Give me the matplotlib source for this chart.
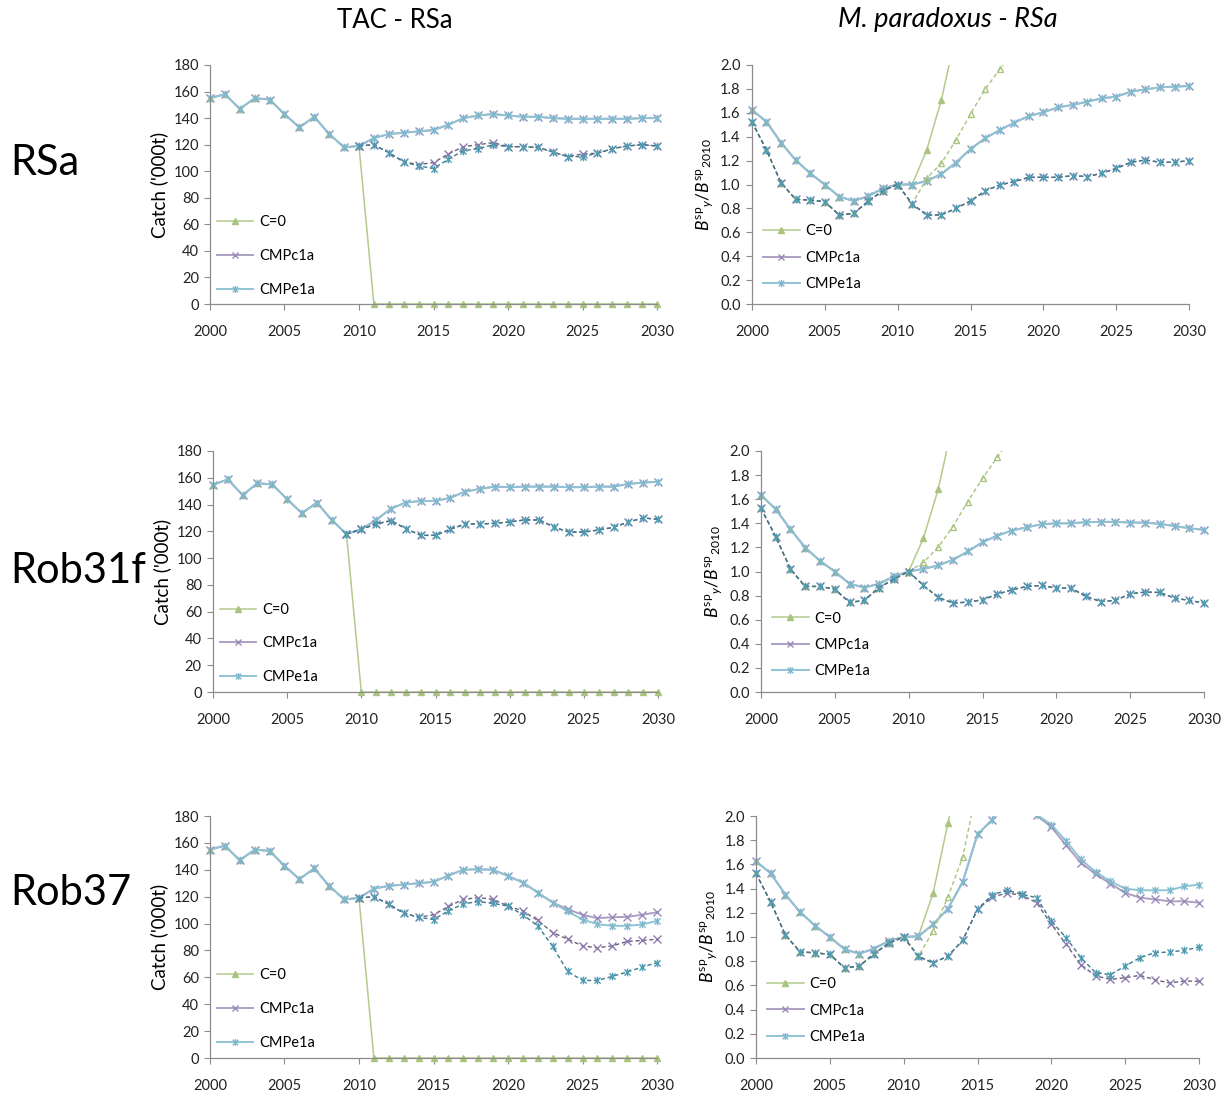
import numpy as np
import matplotlib
matplotlib.use("Agg")
import matplotlib.pyplot as plt
from matplotlib.path import Path
from matplotlib.lines import Line2D

plt.rcParams['font.family'] = ['Lato', 'DejaVu Sans']
plt.rcParams['mathtext.fontset'] = 'custom'
plt.rcParams['mathtext.it'] = 'Lato:italic'
plt.rcParams['mathtext.rm'] = 'Lato'

years = list(range(2000, 2031))
NA = np.nan

# ---- Catch ('000t) ----
# RSa
catch_rsa_cmpc1a = [155, 158, 147, 155, 154, 143, 133, 141, 128, 118, 119,
                    125, 128, 129, 130, 131, 135, 140, 142, 143, 142, 141, 141, 140, 139.5, 139.5, 139.5, 139.5, 139.5, 140, 140]
catch_rsa_cmpe1a = [155, 158, 147, 155, 154, 143, 133, 141, 128, 118, 119,
                    125, 128, 129, 130, 131, 135, 140, 142, 143, 142, 141, 141, 140, 139.5, 139.5, 139.5, 139.5, 139.5, 140, 140]
catch_rsa_cmpc1a_lo = [NA] * 10 + [119, 120, 114, 107, 105, 106.5, 113, 118.5, 120, 121.5, 118.5, 118.5, 118, 114.5, 111, 113, 113.5, 117, 119, 120, 119]
catch_rsa_cmpe1a_lo = [NA] * 10 + [119, 120, 114, 107, 104, 102, 109, 115.5, 117, 120, 118.5, 118.5, 118, 114.5, 111, 111, 113.5, 117, 119, 120, 119]
catch_rsa_c0 = [155, 158, 147, 155, 154, 143, 133, 141, 128, 118, 119] + [0] * 20

# Rob31f
catch_r31_cmpc1a = [154.6, 158.9, 147, 156, 155, 144, 133.5, 141.5, 128.5, 118, 121.5,
                    128.5, 137, 141.5, 142.7, 142.7, 145, 149.7, 151.7, 153.4, 153, 153.4, 153.4, 153.4, 153, 153, 153.4, 153.4, 155.4, 156.4, 157]
catch_r31_cmpe1a = [154.6, 158.9, 147, 156, 155, 144, 133.5, 141.5, 128.5, 118, 121.5,
                    128.5, 137, 141.5, 142.7, 142.7, 145, 149.7, 151.7, 153.4, 153, 153.4, 153.4, 153.4, 153, 153, 153.4, 153.4, 155.4, 156.4, 157]
catch_r31_cmpc1a_lo = [NA] * 9 + [118, 121.5, 125.5, 128, 122, 117, 117, 121.5, 125.5, 125.5, 126, 127, 128.5, 128.5, 123, 119.5, 119.5, 121, 123, 127, 130, 129]
catch_r31_cmpe1a_lo = [NA] * 9 + [118, 121.5, 125.5, 128, 122, 117, 117, 121.5, 125.5, 125.5, 126, 127, 128.5, 128.5, 123, 119.5, 119.5, 121, 123, 127, 130, 129]
catch_r31_c0 = [154.6, 158.9, 147, 156, 155, 144, 133.5, 141.5, 128.5, 118] + [0] * 21

# Rob37
catch_r37_cmpc1a = [155, 158, 147, 155, 154, 143, 133, 141, 128, 118, 119,
                    126, 128, 129, 130, 131, 135.7, 140, 140.4, 140, 135.4, 130.5, 123, 115.6, 110.7, 106.5, 104, 104.7, 105, 106.5, 108.4]
catch_r37_cmpe1a = [155, 158, 147, 155, 154, 143, 133, 141, 128, 118, 119,
                    126, 128, 129, 130, 131, 135.7, 140, 140.4, 140, 135.4, 130.5, 123, 115.6, 109, 103, 99.5, 98.3, 98.3, 99.3, 102]
catch_r37_cmpc1a_lo = [NA] * 10 + [119, 120, 114.4, 107.7, 104.7, 106.5, 112.7, 118, 119.3, 118, 113, 109.4, 102.3, 93.3, 88.4, 83.4, 82, 83.4, 86.7, 87.4, 88.4]
catch_r37_cmpe1a_lo = [NA] * 10 + [119, 120, 114.4, 107.7, 104.7, 103, 109.4, 114.6, 116.4, 115, 113, 106.5, 98.3, 83, 64.4, 57.7, 57.7, 60.7, 64, 67.6, 71]
catch_r37_c0 = [155, 158, 147, 155, 154, 143, 133, 141, 128, 118, 119] + [0] * 20

# ---- Spawning biomass relative to 2010 ----
bsp_hist_med = [1.625, 1.526, 1.35, 1.205, 1.094, 1.0, 0.898, 0.862, 0.904, 0.968, 1.0]
bsp_hist_lo = [1.526, 1.289, 1.015, 0.876, 0.870, 0.856, 0.745, 0.759, 0.862, 0.948, 1.0]

# RSa
bsp_rsa_cmpc1a = bsp_hist_med + [1.0, 1.03, 1.088, 1.183, 1.297, 1.386, 1.456, 1.517, 1.573, 1.604,
                                 1.646, 1.665, 1.693, 1.721, 1.735, 1.777, 1.796, 1.813, 1.819, 1.824]
bsp_rsa_cmpe1a = bsp_hist_med + [1.0, 1.03, 1.088, 1.183, 1.297, 1.386, 1.456, 1.517, 1.573, 1.604,
                                 1.646, 1.665, 1.693, 1.721, 1.735, 1.777, 1.796, 1.813, 1.819, 1.824]
bsp_rsa_cmpc1a_lo = bsp_hist_lo + [0.837, 0.745, 0.745, 0.80, 0.862, 0.946, 0.996, 1.024, 1.06, 1.06,
                                   1.06, 1.074, 1.066, 1.094, 1.135, 1.186, 1.205, 1.186, 1.186, 1.2]
bsp_rsa_cmpe1a_lo = bsp_hist_lo + [0.837, 0.745, 0.745, 0.80, 0.862, 0.946, 0.996, 1.024, 1.06, 1.06,
                                   1.06, 1.074, 1.066, 1.094, 1.135, 1.186, 1.205, 1.186, 1.186, 1.2]
bsp_rsa_c0 = bsp_hist_med + [1.0, 1.289, 1.707, 2.26] + [NA] * 16
bsp_rsa_c0_lo = bsp_hist_lo + [0.837, 1.052, 1.177, 1.372, 1.59, 1.796, 1.964, 2.13] + [NA] * 12

# Rob31f
bsp31_hist_med = [1.635, 1.517, 1.351, 1.199, 1.088, 1.0, 0.898, 0.867, 0.898, 0.959, 1.0]
bsp31_hist_lo = [1.525, 1.29, 1.019, 0.876, 0.876, 0.854, 0.743, 0.76, 0.867, 0.936, 1.0]
bsp_r31_cmpc1a = bsp31_hist_med + [1.022, 1.05, 1.097, 1.166, 1.243, 1.298, 1.34, 1.367, 1.392, 1.4,
                                   1.4, 1.409, 1.412, 1.412, 1.406, 1.406, 1.395, 1.378, 1.359, 1.345]
bsp_r31_cmpe1a = bsp31_hist_med + [1.022, 1.05, 1.097, 1.166, 1.243, 1.298, 1.34, 1.367, 1.392, 1.4,
                                   1.4, 1.409, 1.412, 1.412, 1.406, 1.406, 1.395, 1.378, 1.359, 1.345]
bsp_r31_cmpc1a_lo = bsp31_hist_lo + [0.884, 0.785, 0.738, 0.746, 0.765, 0.812, 0.848, 0.876, 0.884, 0.862,
                                     0.862, 0.793, 0.751, 0.76, 0.815, 0.829, 0.826, 0.779, 0.76, 0.738]
bsp_r31_cmpe1a_lo = bsp31_hist_lo + [0.884, 0.785, 0.738, 0.746, 0.765, 0.812, 0.848, 0.876, 0.884, 0.862,
                                     0.862, 0.793, 0.751, 0.76, 0.815, 0.829, 0.826, 0.779, 0.76, 0.738]
bsp_r31_c0 = bsp31_hist_med + [1.276, 1.682, 2.24] + [NA] * 17
bsp_r31_c0_lo = bsp31_hist_lo + [1.075, 1.202, 1.373, 1.58, 1.773, 1.948, 2.12] + [NA] * 13

# Rob37
bsp_r37_cmpc1a = bsp_hist_med + [1.006, 1.105, 1.234, 1.455, 1.848, 1.97, 2.25, 2.2, 2.005, 1.909,
                                 1.758, 1.614, 1.518, 1.441, 1.364, 1.325, 1.311, 1.295, 1.295, 1.284]
bsp_r37_cmpe1a = bsp_hist_med + [1.006, 1.105, 1.234, 1.455, 1.848, 1.97, 2.25, 2.2, 2.012, 1.928,
                                 1.793, 1.642, 1.537, 1.46, 1.4, 1.386, 1.386, 1.386, 1.419, 1.433]
bsp_r37_cmpc1a_lo = bsp_hist_lo + [0.84, 0.785, 0.843, 0.972, 1.229, 1.33, 1.364, 1.344, 1.284, 1.105,
                                   0.939, 0.771, 0.678, 0.65, 0.664, 0.683, 0.647, 0.62, 0.636, 0.634]
bsp_r37_cmpe1a_lo = bsp_hist_lo + [0.84, 0.785, 0.843, 0.972, 1.229, 1.35, 1.386, 1.353, 1.325, 1.132,
                                   0.994, 0.829, 0.705, 0.689, 0.76, 0.829, 0.87, 0.876, 0.89, 0.917]
bsp_r37_c0 = bsp_hist_med + [1.006, 1.366, 1.942, 2.5] + [NA] * 16
bsp_r37_c0_lo = bsp_hist_lo + [0.84, 1.05, 1.331, 1.661, 2.25] + [NA] * 15

row_labels = ["RSa", "Rob31f", "Rob37"]
series_names = ["C=0", "CMPc1a", "CMPe1a"]
catch_ticks = [0, 20, 40, 60, 80, 100, 120, 140, 160, 180]
bsp_ticks = [0.0, 0.2, 0.4, 0.6, 0.8, 1.0, 1.2, 1.4, 1.6, 1.8, 2.0]
year_ticks = [2000, 2005, 2010, 2015, 2020, 2025, 2030]

# Excel-style asterisk marker (an x with a vertical stroke)
asterisk = Path([(-1, -1), (1, 1), (-1, 1), (1, -1), (0, -1.25), (0, 1.25)],
                [Path.MOVETO, Path.LINETO, Path.MOVETO, Path.LINETO, Path.MOVETO, Path.LINETO])

styles = {
    "C=0": dict(color="#b3cb8c", lw=1.1, marker="^", mk="#a9c47f", dash="#a9c47f", dmk="#a9c47f", filled=True),
    "CMPc1a": dict(color="#ab9fc4", lw=1.4, marker="x", mk="#9a8cb8", dash="#66627a", dmk="#8e7caf", filled=False),
    "CMPe1a": dict(color="#8fc4d4", lw=1.4, marker=asterisk, mk="#7fb8cc", dash="#3f7a8c", dmk="#4e9db3", filled=False),
}

fig = plt.figure(figsize=(12.32, 10.99), dpi=100)
W, H = 1232, 1099


def add_axes(x0, x1, y_top, y_bot):
    return fig.add_axes([x0 / W, 1 - y_bot / H, (x1 - x0) / W, (y_bot - y_top) / H])


def style_axes(ax, ymax, yticks, fmt):
    ax.set_xlim(1999.6, 2030.4)
    ax.set_ylim(0, ymax)
    for s in ("top", "right"):
        ax.spines[s].set_visible(False)
    ax.spines["left"].set_position(("data", 2000))
    ax.spines["bottom"].set_bounds(2000, 2030)
    for s in ("left", "bottom"):
        ax.spines[s].set_color("#8c8c8c")
        ax.spines[s].set_linewidth(0.9)
    ax.set_xticks(year_ticks)
    ax.set_yticks(yticks)
    ax.set_yticklabels([fmt.format(t) for t in yticks])
    ax.tick_params(direction="out", length=4, width=0.8, color="#8c8c8c",
                   labelsize=10.5, labelcolor="#222222")
    ax.tick_params(axis="x", pad=11)
    ax.tick_params(axis="y", pad=4)


def draw(ax, name, solid, lower=None, clip=True):
    st = styles[name]
    ms = 5 if name == "C=0" else 5.5
    mfc = st["mk"] if st["filled"] else "none"
    if lower is not None:
        ax.plot(years, lower, color=st["dash"], lw=1.0, ls=(0, (3, 2)),
                marker=st["marker"], ms=ms, mec=st["dmk"], mfc="none", mew=1.0,
                zorder=3, clip_on=clip)
    ax.plot(years, solid, color=st["color"], lw=st["lw"], marker=st["marker"], ms=ms,
            mec=st["mk"], mfc=mfc, mew=1.0, zorder=2, clip_on=clip)


def legend(ax, x_anchor, y_anchor, spacing):
    handles = []
    for n in series_names:
        st = styles[n]
        handles.append(Line2D([], [], color=st["color"], lw=st["lw"], marker=st["marker"],
                              ms=5, mec=st["mk"], mfc=st["mk"] if st["filled"] else "none", mew=1.0))
    ax.legend(handles, series_names, loc="upper left", bbox_to_anchor=(x_anchor, y_anchor),
              frameon=False, fontsize=10.5, handlelength=2.5, labelspacing=spacing,
              handletextpad=0.4, borderaxespad=0)


catch_rows = [
    (catch_rsa_c0, catch_rsa_cmpc1a, catch_rsa_cmpc1a_lo, catch_rsa_cmpe1a, catch_rsa_cmpe1a_lo),
    (catch_r31_c0, catch_r31_cmpc1a, catch_r31_cmpc1a_lo, catch_r31_cmpe1a, catch_r31_cmpe1a_lo),
    (catch_r37_c0, catch_r37_cmpc1a, catch_r37_cmpc1a_lo, catch_r37_cmpe1a, catch_r37_cmpe1a_lo),
]
bsp_rows = [
    (bsp_rsa_c0, bsp_rsa_c0_lo, bsp_rsa_cmpc1a, bsp_rsa_cmpc1a_lo, bsp_rsa_cmpe1a, bsp_rsa_cmpe1a_lo),
    (bsp_r31_c0, bsp_r31_c0_lo, bsp_r31_cmpc1a, bsp_r31_cmpc1a_lo, bsp_r31_cmpe1a, bsp_r31_cmpe1a_lo),
    (bsp_r37_c0, bsp_r37_c0_lo, bsp_r37_cmpc1a, bsp_r37_cmpc1a_lo, bsp_r37_cmpe1a, bsp_r37_cmpe1a_lo),
]

# pixel frames (x left, x right, y top, y bottom) for each panel
left_frames = [(204, 663, 65, 304), (207, 664, 451, 692), (204, 663, 816, 1058)]
right_frames = [(746, 1195, 65, 304), (755, 1210, 451, 692), (750, 1205, 816, 1058)]
row_label_y = [163, 571, 893]

for i in range(3):
    axl = add_axes(*left_frames[i])
    c0, c1, c1lo, e1, e1lo = catch_rows[i]
    draw(axl, "C=0", c0, clip=False)
    draw(axl, "CMPc1a", c1, c1lo, clip=False)
    draw(axl, "CMPe1a", e1, e1lo, clip=False)
    style_axes(axl, 180, catch_ticks, "{:d}")
    axl.set_ylabel("Catch ('000t)", fontsize=13.5, labelpad=4)
    legend(axl, 0.015, 0.395, 1.35)

    axr = add_axes(*right_frames[i])
    b0, b0lo, b1, b1lo, be, belo = bsp_rows[i]
    draw(axr, "C=0", b0, b0lo)
    draw(axr, "CMPc1a", b1, b1lo)
    draw(axr, "CMPe1a", be, belo)
    style_axes(axr, 2.0, bsp_ticks, "{:.1f}")
    axr.set_ylabel(r"$B^{\mathrm{sp}}{}_{y}/B^{\mathrm{sp}}{}_{\mathrm{2010}}$", fontsize=12.5, labelpad=3)
    legend(axr, 0.025, 0.358, 0.85)

    fig.text(10 / W, 1 - row_label_y[i] / H, row_labels[i], fontsize=30, va="center", ha="left")

fig.text(395 / W, 1 - 20 / H, "TAC - RSa", fontsize=18.5, ha="center", va="center")
fig.text(948 / W, 1 - 20 / H, "M. paradoxus - RSa", fontsize=19.5, ha="center", va="center", style="italic")

fig.savefig("out.png", dpi=100)
